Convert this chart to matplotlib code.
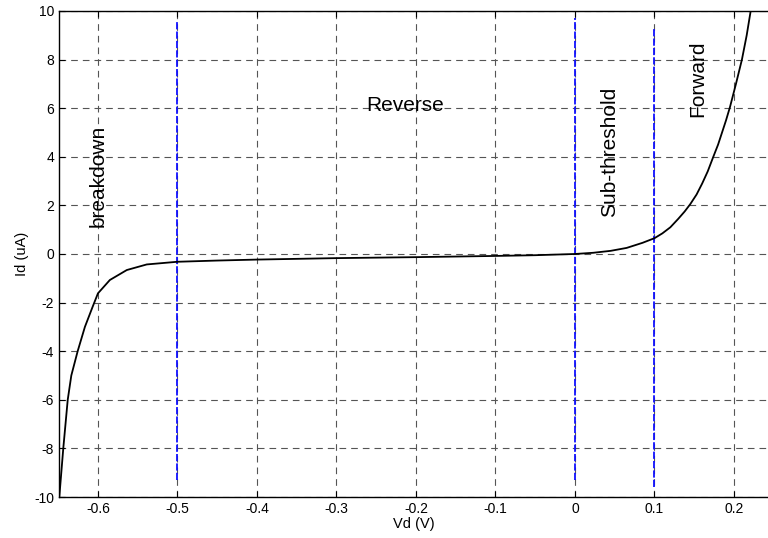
import numpy as np
import matplotlib
matplotlib.use("Agg")
import matplotlib.pyplot as plt

plt.rcParams['font.family'] = ['Liberation Sans', 'DejaVu Sans']
plt.rcParams['axes.unicode_minus'] = False

# I-V curve (Vd in volts, Id in uA)
vd = [-0.6486, -0.6436, -0.638, -0.6335, -0.6255, -0.6164, -0.607, -0.6,
      -0.585, -0.5637, -0.5386, -0.5, -0.45, -0.4, -0.3, -0.2, -0.1, -0.05,
      0.0, 0.023, 0.045, 0.065, 0.085, 0.1, 0.11, 0.12, 0.13, 0.138, 0.145,
      0.153, 0.16, 0.167, 0.174, 0.18, 0.185, 0.19, 0.195, 0.2025, 0.21,
      0.216, 0.221]
id_ua = [-10.0, -8.0, -6.0, -5.0, -4.0, -3.0, -2.2, -1.62,
         -1.07, -0.66, -0.43, -0.32, -0.27, -0.23, -0.17, -0.13, -0.08, -0.05,
         0.0, 0.05, 0.13, 0.25, 0.46, 0.65, 0.85, 1.1, 1.45, 1.75, 2.05,
         2.45, 2.9, 3.4, 4.0, 4.5, 5.0, 5.5, 6.05, 7.0, 8.0,
         9.0, 10.0]

# region boundaries (blue markers): x, bottom, top
bound_x = [-0.5, 0.0, 0.1]
bound_lo = [-9.3, -9.3, -9.6]
bound_hi = [9.6, 9.7, 9.3]

# region names: text, x, y, rotation, alignment
region_text = ['breakdown', 'Reverse', 'Sub-threshold', 'Forward']
region_x = [-0.600, -0.263, 0.043, 0.155]
region_y = [3.2, 6.1, 4.2, 7.2]
region_rot = [90, 0, 90, 90]
region_ha = ['center', 'left', 'center', 'center']

xticks = [-0.6, -0.5, -0.4, -0.3, -0.2, -0.1, 0, 0.1, 0.2]
xtick_labels = ['-0.6', '-0.5', '-0.4', '-0.3', '-0.2', '-0.1', '0', '0.1', '0.2']
yticks = list(range(-10, 11, 2))

fig = plt.figure(figsize=(7.68, 5.38), dpi=100)
ax = fig.add_axes([0.0768, 0.0762, 0.9232, 0.9034])

ax.grid(True, color='#555555', linestyle=(0, (6, 4.5)), linewidth=0.8)
ax.set_axisbelow(True)

for x, lo, hi in zip(bound_x, bound_lo, bound_hi):
    ax.plot([x, x], [lo, hi], color='#1010ff', linewidth=1.3,
            linestyle=(0, (4, 1.2)))

ax.plot(vd, id_ua, color='black', linewidth=1.3)

for t, x, y, r, ha in zip(region_text, region_x, region_y, region_rot, region_ha):
    ax.text(x, y, t, rotation=r, ha=ha, va='center', fontsize=15)

ax.set_xlim(-0.649, 0.2428)
ax.set_ylim(-10, 10)
ax.set_xticks(xticks)
ax.set_xticklabels(xtick_labels)
ax.set_yticks(yticks)
ax.tick_params(direction='in', length=4, labelsize=10, top=True, width=0.8)
ax.spines['right'].set_visible(False)
for s in ['left', 'bottom', 'top']:
    ax.spines[s].set_linewidth(1.0)

ax.set_xlabel('Vd (V)', fontsize=10.5, labelpad=1)
ax.set_ylabel('Id (uA)', fontsize=10.5, labelpad=4)

fig.savefig('out.png', dpi=100)
